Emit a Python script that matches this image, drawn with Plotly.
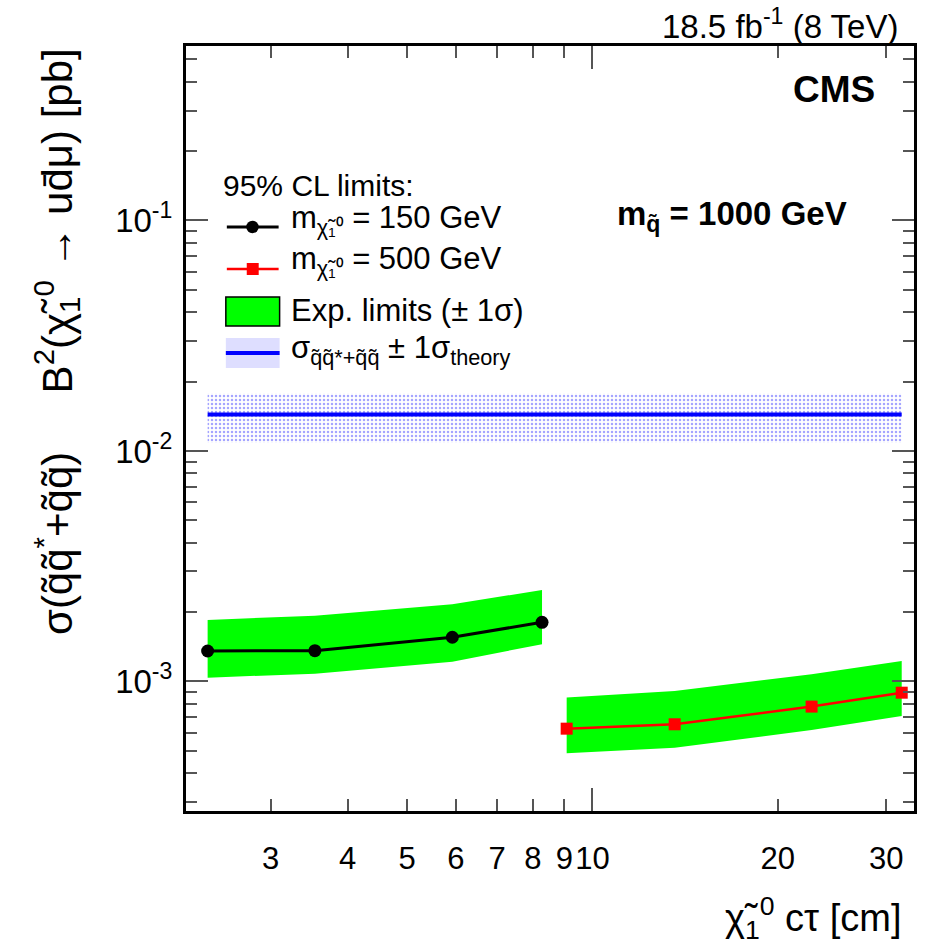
import plotly.graph_objects as go

# Displaced-vertex search: 95% CL upper limits on sigma x B^2 versus neutralino c*tau
ctau_150 = [2.37, 3.54, 5.92, 8.28]
limit_150 = [1.356e-3, 1.360e-3, 1.555e-3, 1.806e-3]
exp_lo_150 = [1.039e-3, 1.081e-3, 1.219e-3, 1.450e-3]
exp_hi_150 = [1.848e-3, 1.930e-3, 2.162e-3, 2.494e-3]

ctau_500 = [9.08, 13.6, 22.7, 31.8]
limit_500 = [6.24e-4, 6.52e-4, 7.78e-4, 8.94e-4]
exp_lo_500 = [4.88e-4, 5.16e-4, 6.16e-4, 7.08e-4]
exp_hi_500 = [8.51e-4, 9.09e-4, 1.075e-3, 1.227e-3]

# squark-pair production cross section (m_squark = 1000 GeV) and its uncertainty
theory_ctau = [2.37, 31.8]
theory_xsec = [0.01439, 0.01439]
theory_lo = [0.01083, 0.01083]
theory_hi = [0.01775, 0.01775]

x_tick_vals = [3, 4, 5, 6, 7, 8, 9, 10, 20, 30]
x_tick_text = ["3", "4", "5", "6", "7", "8", "9", "10", "20", "30"]
x_long_ticks = [10]
y_tick_vals = [1e-3, 1e-2, 1e-1]
y_tick_text = ["10<sup>-3</sup>", "10<sup>-2</sup>", "10<sup>-1</sup>"]
y_minor_vals = ([m * 1e-4 for m in range(3, 10)] + [m * 1e-3 for m in range(2, 10)]
                + [m * 1e-2 for m in range(2, 10)] + [m * 1e-1 for m in range(2, 6)])

FONT = "Liberation Sans, Arial, Helvetica, sans-serif"
X_RANGE = [0.3396, 1.5224]
Y_RANGE = [-3.562, -0.243]


def band(xs, lo, hi):
    return list(xs) + list(xs)[::-1], list(hi) + list(lo)[::-1]


fig = go.Figure()

bx, by = band(theory_ctau, theory_lo, theory_hi)
fig.add_trace(go.Scatter(
    x=bx, y=by, fill="toself", mode="lines", line=dict(width=0),
    fillcolor="rgba(0,0,0,0)",
    fillpattern=dict(shape=".", fgcolor="#4a4aff", bgcolor="rgba(0,0,0,0)", size=4, solidity=0.3),
    showlegend=False, hoverinfo="skip"))
fig.add_trace(go.Scatter(
    x=theory_ctau, y=theory_xsec, mode="lines",
    line=dict(color="#0000ff", width=4), showlegend=False))

for xs, lo, hi in [(ctau_150, exp_lo_150, exp_hi_150), (ctau_500, exp_lo_500, exp_hi_500)]:
    gx, gy = band(xs, lo, hi)
    fig.add_trace(go.Scatter(
        x=gx, y=gy, fill="toself", mode="lines", line=dict(width=0),
        fillcolor="#00ff00", showlegend=False, hoverinfo="skip"))

fig.add_trace(go.Scatter(
    x=ctau_150, y=limit_150, mode="lines+markers",
    line=dict(color="black", width=3),
    marker=dict(symbol="circle", size=13, color="black"), showlegend=False))
fig.add_trace(go.Scatter(
    x=ctau_500, y=limit_500, mode="lines+markers",
    line=dict(color="#ff0000", width=2.5),
    marker=dict(symbol="square", size=12, color="#ff0000"), showlegend=False))

# empty trace carrying the overlay axis used for the long tick at 10
fig.add_trace(go.Scatter(x=[], y=[], xaxis="x2", showlegend=False))

axis_common = dict(showgrid=False, zeroline=False, showline=True, linecolor="black",
                   linewidth=3, ticks="inside", mirror="ticks", tickcolor="#555555",
                   tickwidth=2)

fig.update_layout(
    width=927, height=952,
    margin=dict(l=186, r=10, t=46, b=141),
    paper_bgcolor="white", plot_bgcolor="white",
    font=dict(family=FONT, color="black"),
    xaxis=dict(type="log", range=X_RANGE, tickvals=x_tick_vals, ticktext=x_tick_text,
               ticklen=12, tickfont=dict(size=31), tickangle=0, ticklabelstandoff=18,
               **axis_common),
    xaxis2=dict(type="log", range=X_RANGE, overlaying="x", side="bottom",
                tickvals=x_long_ticks, showticklabels=False, ticklen=23, **axis_common),
    yaxis=dict(type="log", range=Y_RANGE, tickvals=y_tick_vals, ticktext=y_tick_text,
               ticklen=22, tickfont=dict(size=33), ticklabelstandoff=4,
               minor=dict(tickvals=y_minor_vals, ticklen=11, ticks="inside",
                          tickcolor="#555555", tickwidth=2, showgrid=False),
               **axis_common),
)


def paper_x(px):
    return (px - 186) / 731


def paper_y(py):
    return (811 - py) / 765


annotations = [
    dict(text="18.5 fb<sup>-1</sup> (8 TeV)", x=paper_x(903), y=paper_y(24),
         xanchor="right", yanchor="middle", font=dict(size=33)),
    dict(text="<b>CMS</b>", x=paper_x(880), y=paper_y(89),
         xanchor="right", yanchor="middle", font=dict(size=37)),
    dict(text="<b>m<sub>q\u0303</sub> = 1000 GeV</b>", x=paper_x(852), y=paper_y(216),
         xanchor="right", yanchor="middle", font=dict(size=33)),
    dict(text="\u03c7\u0303<sub>1</sub><sup>0</sup> c\u03c4 [cm]", x=paper_x(906), y=paper_y(918),
         xanchor="right", yanchor="middle", font=dict(size=38)),
    dict(text="\u03c3(q\u0303q\u0303<sup>*</sup>+q\u0303q\u0303)" + "\u00a0" * 5
         + "B<sup>2</sup>(\u03c7\u0303<sub>1</sub><sup>0</sup> \u2192 ud\u0304\u03bc) [pb]",
         x=paper_x(56), y=paper_y(46), xanchor="center", yanchor="top",
         textangle=-90, font=dict(size=42)),
    # legend block
    dict(text="95% CL limits:", x=paper_x(221), y=paper_y(185),
         xanchor="left", yanchor="middle", font=dict(size=30)),
    dict(text="m<sub>\u03c7\u0303\u2081\u2070</sub> = 150 GeV", x=paper_x(289), y=paper_y(220),
         xanchor="left", yanchor="middle", font=dict(size=31)),
    dict(text="m<sub>\u03c7\u0303\u2081\u2070</sub> = 500 GeV", x=paper_x(289), y=paper_y(261),
         xanchor="left", yanchor="middle", font=dict(size=31)),
    dict(text="Exp. limits (\u00b1 1\u03c3)", x=paper_x(289), y=paper_y(310),
         xanchor="left", yanchor="middle", font=dict(size=31)),
    dict(text="\u03c3<sub>q\u0303q\u0303*+q\u0303q\u0303</sub> \u00b1 1\u03c3<sub>theory</sub>",
         x=paper_x(289), y=paper_y(350), xanchor="left", yanchor="middle", font=dict(size=31)),
]
for a in annotations:
    a.update(xref="paper", yref="paper", showarrow=False)
fig.update_layout(annotations=annotations)

shapes = [
    # 150 GeV entry: line + circle
    dict(type="line", x0=paper_x(227), x1=paper_x(279), y0=paper_y(227), y1=paper_y(227),
         line=dict(color="black", width=3)),
    dict(type="circle", x0=paper_x(246.5), x1=paper_x(259), y0=paper_y(233.2), y1=paper_y(220.8),
         fillcolor="black", line=dict(color="black", width=0)),
    # 500 GeV entry: line + square
    dict(type="line", x0=paper_x(227), x1=paper_x(279), y0=paper_y(269), y1=paper_y(269),
         line=dict(color="#ff0000", width=2.5)),
    dict(type="rect", x0=paper_x(247), x1=paper_x(259), y0=paper_y(275), y1=paper_y(263),
         fillcolor="#ff0000", line=dict(width=0)),
    # expected band swatch
    dict(type="rect", x0=paper_x(226), x1=paper_x(280), y0=paper_y(326), y1=paper_y(297),
         fillcolor="#00ff00", line=dict(color="black", width=1.5)),
    # theory band swatch
    dict(type="rect", x0=paper_x(226), x1=paper_x(280), y0=paper_y(368), y1=paper_y(338),
         fillcolor="rgba(90,90,255,0.2)", line=dict(width=0)),
    dict(type="line", x0=paper_x(226), x1=paper_x(280), y0=paper_y(353), y1=paper_y(353),
         line=dict(color="#0000ff", width=4)),
]
for s in shapes:
    s.update(xref="paper", yref="paper")
fig.update_layout(shapes=shapes)

fig.write_html("out.html")
